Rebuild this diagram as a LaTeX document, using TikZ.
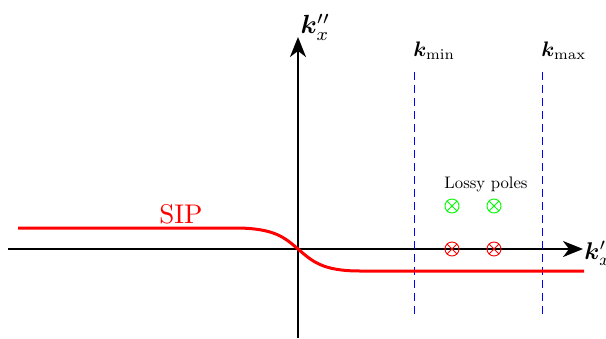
\documentclass[tikz,border=0pt]{standalone}
\usepackage{bm}
\usetikzlibrary{arrows.meta}
\begin{document}
\begin{tikzpicture}[x=1pt,y=-1pt,
  axis/.style={line width=2.2pt,-{Stealth[length=20pt,width=16pt,inset=6pt]}},
  lim/.style={blue,dashed,line width=1pt,dash pattern=on 8pt off 5pt},
  lbl/.style={inner sep=0pt,scale=2.1},
  pole/.style={circle,draw,line width=0.9pt,minimum size=14pt,inner sep=0pt,
    path picture={\draw[line width=0.9pt] (path picture bounding box.north west)--(path picture bounding box.south east)
      (path picture bounding box.north east)--(path picture bounding box.south west);}}]
\useasboundingbox (0,0) rectangle (606,338);
\coordinate (xs) at (8,249);
\coordinate (xe) at (583,249);
\coordinate (ys) at (298,338);
\coordinate (ye) at (298,37);
\draw[axis] (xs) -- (xe);
\draw[axis] (ys) -- (ye);
\node[lbl,scale=1.15,anchor=west] (kx1) at (584,253) {$\bm{k}'_x$};
\node[lbl,scale=1.25,anchor=south west] (kx2) at (300,41) {$\bm{k}''_x$};
\coordinate (a1) at (414,72);
\coordinate (a2) at (414,318);
\coordinate (b1) at (542,72);
\coordinate (b2) at (542,318);
\draw[lim] (a1) -- (a2);
\draw[lim] (b1) -- (b2);
\node[lbl,anchor=west] (kmin) at (413,51) {$\bm{k}_{\min}$};
\node[lbl,anchor=west] (kmax) at (541,51) {$\bm{k}_{\max}$};
\coordinate (r0) at (18,228);
\coordinate (r3) at (584,271);
\draw[red,line width=3pt] (r0) -- (235,228) .. controls (275,228) and (285,238) .. (298,249)
  .. controls (312,261) and (322,271) .. (360,271) -- (r3);
\node[red,inner sep=0pt,scale=2.7] (sip) at (181,214) {SIP};
\node[inner sep=0pt,scale=1.67] (lp) at (486,184) {Lossy poles};
\node[pole,green] (g1) at (452,206) {};
\node[pole,green] (g2) at (494,206) {};
\node[pole,red] (p1) at (452,249) {};
\node[pole,red] (p2) at (494,249) {};
\end{tikzpicture}
\end{document}
